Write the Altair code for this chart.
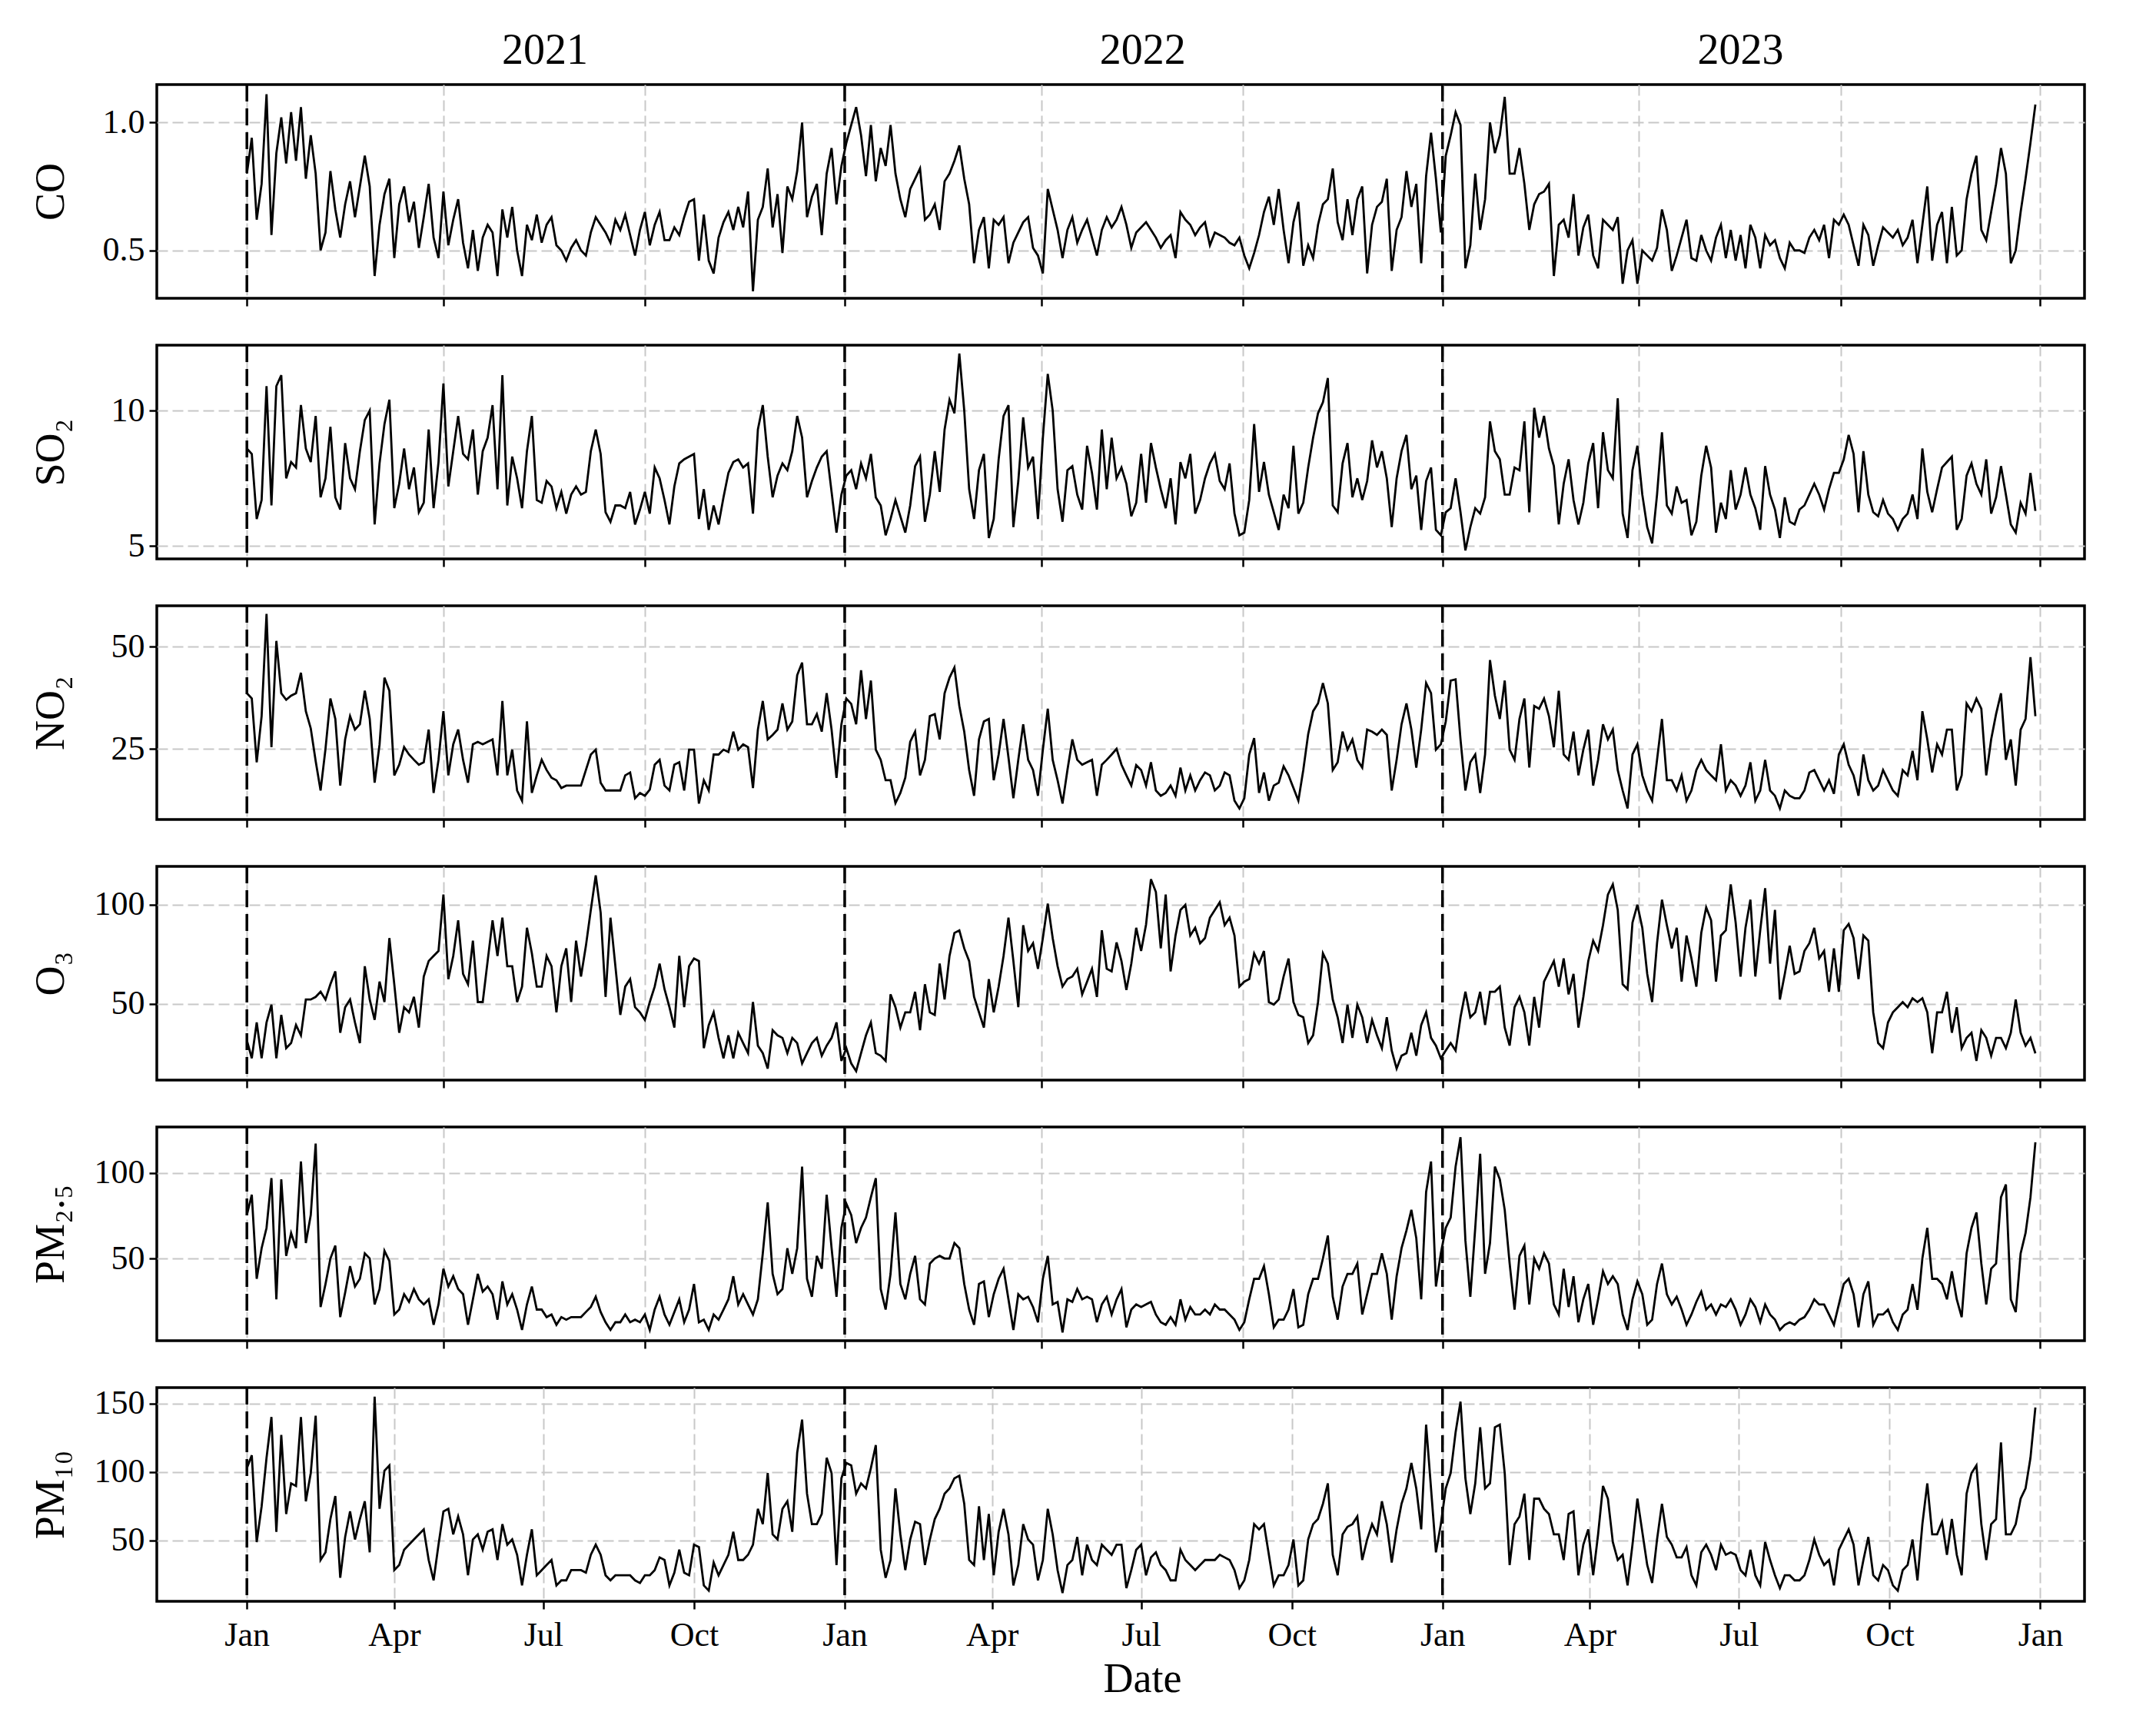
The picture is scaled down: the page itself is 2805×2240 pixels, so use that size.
import altair as alt
import pandas as pd

# ---------------- data: readings sampled every 3 days from 2021-01-01 ----------------
START = "2021-01-01"
STEP = "3D"

co_2021 = [0.80,0.94,0.62,0.76,1.11,0.56,0.88,1.02,0.84,1.04,
           0.85,1.06,0.78,0.95,0.80,0.50,0.57,0.81,0.66,0.55,
           0.68,0.77,0.63,0.75,0.87,0.75,0.40,0.60,0.72,0.78,
           0.47,0.68,0.75,0.61,0.69,0.51,0.63,0.76,0.55,0.47,
           0.73,0.52,0.62,0.70,0.53,0.43,0.58,0.42,0.55,0.60,
           0.57,0.40,0.66,0.55,0.67,0.50,0.40,0.60,0.54,0.64,
           0.53,0.60,0.63,0.52,0.50,0.46,0.51,0.54,0.50,0.48,
           0.57,0.63,0.60,0.57,0.53,0.62,0.58,0.64,0.56,0.48,
           0.58,0.65,0.52,0.60,0.65,0.54,0.54,0.59,0.56,0.63,
           0.69,0.70,0.46,0.64,0.46,0.41,0.55,0.61,0.65,0.58,
           0.67,0.59,0.73,0.34,0.62,0.67,0.82,0.59,0.72,0.49,
           0.75,0.70,0.81,1.00,0.63,0.71,0.76,0.56,0.80,0.90,
           0.68,0.83]
co_2022 = [0.92,0.99,1.06,0.95,0.79,0.99,0.77,0.90,0.83,0.99,
           0.80,0.70,0.63,0.74,0.78,0.82,0.62,0.64,0.68,0.58,
           0.77,0.80,0.85,0.91,0.78,0.68,0.45,0.58,0.63,0.43,
           0.62,0.60,0.63,0.45,0.53,0.57,0.61,0.63,0.51,0.48,
           0.41,0.74,0.66,0.58,0.47,0.58,0.63,0.53,0.58,0.62,
           0.55,0.48,0.58,0.63,0.59,0.62,0.67,0.60,0.51,0.57,
           0.59,0.61,0.58,0.55,0.51,0.54,0.56,0.47,0.65,0.62,
           0.60,0.56,0.59,0.61,0.52,0.57,0.56,0.55,0.53,0.52,
           0.55,0.48,0.43,0.49,0.56,0.65,0.71,0.60,0.74,0.58,
           0.45,0.61,0.69,0.44,0.52,0.47,0.60,0.68,0.70,0.82,
           0.61,0.54,0.70,0.56,0.70,0.75,0.41,0.60,0.67,0.69,
           0.78,0.42,0.58,0.63,0.81,0.67,0.76,0.45,0.79,0.96,
           0.78,0.57]
co_2023 = [0.87,0.95,1.04,0.99,0.43,0.52,0.80,0.58,0.70,1.00,
           0.88,0.95,1.10,0.80,0.80,0.90,0.76,0.58,0.68,0.72,
           0.73,0.76,0.40,0.60,0.62,0.55,0.72,0.48,0.59,0.64,
           0.48,0.43,0.62,0.60,0.58,0.63,0.37,0.50,0.54,0.37,
           0.50,0.48,0.46,0.51,0.66,0.58,0.42,0.48,0.55,0.62,
           0.47,0.46,0.56,0.50,0.46,0.55,0.60,0.47,0.58,0.46,
           0.56,0.43,0.60,0.55,0.43,0.56,0.52,0.54,0.47,0.43,
           0.53,0.50,0.50,0.49,0.55,0.58,0.54,0.60,0.47,0.62,
           0.60,0.64,0.60,0.52,0.44,0.60,0.56,0.44,0.52,0.59,
           0.57,0.55,0.58,0.52,0.55,0.62,0.45,0.60,0.75,0.46,
           0.60,0.65,0.45,0.67,0.48,0.50,0.70,0.80,0.87,0.58,
           0.54,0.65,0.76,0.90,0.80,0.45,0.50,0.65,0.78,0.92,
           1.07]

so2_2021 = [8.6,8.4,6.0,6.7,10.9,6.5,10.9,11.3,7.5,8.1,
            7.9,10.2,8.6,8.1,9.8,6.8,7.5,9.4,6.8,6.35,
            8.8,7.5,7.1,8.5,9.65,10.0,5.8,8.05,9.5,10.4,
            6.4,7.3,8.6,7.1,7.9,6.25,6.6,9.3,6.4,8.1,
            11.0,7.2,8.5,9.8,8.4,8.2,9.3,6.9,8.5,9.0,
            10.2,7.1,11.3,6.5,8.3,7.5,6.4,8.5,9.8,6.7,
            6.6,7.4,7.2,6.4,7.0,6.2,6.9,7.2,6.9,7.0,
            8.5,9.3,8.4,6.25,5.9,6.5,6.5,6.4,7.0,5.8,
            6.35,7.0,6.2,7.9,7.5,6.7,5.8,7.2,8.05,8.2,
            8.3,8.4,6.0,7.1,5.6,6.5,5.8,6.8,7.7,8.1,
            8.2,7.9,8.05,6.2,9.3,10.2,8.3,6.8,7.6,8.05,
            7.8,8.5,9.8,9.0,6.8,7.4,7.9,8.3,8.5,7.0,
            5.5,6.9]
so2_2022 = [7.6,7.8,7.1,8.05,7.5,8.4,6.8,6.5,5.4,6.0,
            6.7,6.1,5.5,6.5,7.95,8.3,5.9,6.9,8.5,7.0,
            9.3,10.4,9.9,12.1,10.0,7.1,6.0,7.8,8.4,5.3,
            6.0,8.2,9.8,10.2,5.7,7.4,9.75,7.9,8.3,6.0,
            9.0,11.35,10.0,7.1,5.9,7.8,7.95,6.9,6.35,8.7,
            7.7,6.35,9.3,7.1,9.0,7.5,7.9,7.3,6.1,6.6,
            8.4,6.6,8.8,7.9,7.1,6.4,7.5,5.8,8.1,7.5,
            8.4,6.2,6.7,7.5,8.05,8.4,7.4,7.1,8.05,6.2,
            5.4,5.5,6.7,9.5,7.0,8.1,6.9,6.25,5.6,6.9,
            6.4,8.7,6.2,6.6,7.9,9.0,9.9,10.3,11.2,6.5,
            6.25,8.05,8.8,6.8,7.5,6.7,7.4,8.9,7.9,8.5,
            7.5,5.7,7.5,8.5,9.1,7.1,7.6,5.6,7.4,7.9,
            5.6,5.4]
so2_2023 = [6.25,6.4,7.5,6.25,4.84,5.7,6.4,6.2,6.8,9.6,
            8.5,8.2,6.9,6.9,7.9,7.8,9.6,6.25,10.1,9.0,
            9.8,8.6,7.95,5.8,7.3,8.2,6.7,5.8,6.6,8.05,
            8.8,6.4,9.2,7.8,7.5,10.45,6.2,5.3,7.8,8.7,
            6.9,5.7,5.1,6.9,9.2,6.5,6.2,7.2,6.6,6.7,
            5.4,5.9,7.6,8.7,7.9,5.5,6.6,6.0,7.8,6.35,
            6.9,7.9,6.9,6.4,5.6,7.95,6.9,6.35,5.3,6.8,
            5.9,5.8,6.35,6.5,6.9,7.3,6.9,6.35,7.1,7.7,
            7.7,8.2,9.1,8.4,6.25,8.5,6.9,6.25,6.1,6.7,
            6.2,6.0,5.6,6.0,6.2,6.9,6.0,8.6,7.0,6.25,
            7.1,7.9,8.1,8.3,5.6,6.0,7.6,8.05,7.3,6.9,
            8.2,6.2,6.8,7.95,6.9,5.8,5.5,6.6,6.2,7.7,
            6.3]

no2_2021 = [38.6,37.3,21.7,33.0,58.0,25.4,51.4,38.6,37.0,38.0,
            38.6,43.6,34.2,30.0,22.0,14.8,25.0,37.3,32.3,16.0,
            27.3,33.0,29.7,31.0,39.2,32.3,16.7,26.0,42.4,39.2,
            18.5,21.1,25.4,23.6,22.3,21.1,21.7,29.7,14.2,22.3,
            34.2,18.5,26.1,29.7,22.3,16.7,26.1,26.7,26.1,26.7,
            27.3,18.5,36.7,18.5,24.8,14.8,12.3,31.7,14.2,18.5,
            22.3,19.8,17.9,17.3,15.4,16.0,16.0,16.0,16.0,19.8,
            23.6,24.8,16.7,14.8,14.8,14.8,14.8,18.5,19.2,12.9,
            14.2,13.5,15.0,21.1,22.3,16.0,14.8,21.1,21.7,14.8,
            24.8,24.8,11.6,17.3,14.8,23.6,23.6,24.8,24.2,29.2,
            24.8,26.1,25.4,15.4,29.7,36.7,27.3,28.4,29.7,36.1,
            29.7,31.7,43.0,46.1,31.0,31.0,33.5,29.2,38.6,29.7,
            17.9,31.0]
no2_2022 = [37.3,36.0,31.0,44.2,32.3,41.7,24.8,22.3,17.3,17.3,
            11.7,14.2,17.9,26.7,29.2,18.5,22.3,33.0,33.5,27.3,
            38.6,42.4,44.9,35.5,29.2,19.8,13.5,27.3,31.7,32.3,
            17.3,23.6,32.3,22.9,12.9,22.3,31.0,22.3,19.8,13.5,
            24.8,34.8,22.3,17.3,11.6,19.8,27.3,22.3,21.1,21.7,
            22.3,13.5,21.1,22.3,23.6,25.0,21.1,18.5,16.0,21.0,
            19.8,16.0,21.7,14.8,13.5,14.2,16.0,13.5,20.4,14.8,
            18.5,14.8,17.3,19.2,18.5,14.8,16.0,19.2,18.5,12.3,
            10.4,12.9,23.6,27.6,14.2,19.2,12.3,16.0,16.7,20.7,
            18.5,15.4,12.3,19.8,28.6,34.2,36.1,41.1,36.1,19.8,
            21.7,29.2,24.8,27.3,22.3,20.4,29.7,29.2,28.4,29.7,
            28.4,14.8,22.3,31.0,36.1,29.7,20.4,29.7,41.1,38.6,
            24.8,26.1]
no2_2023 = [31.7,41.7,42.0,27.3,14.8,21.7,23.6,14.2,23.6,46.7,
            38.0,32.3,41.7,24.8,22.3,32.3,37.3,20.4,35.5,34.8,
            37.3,33.0,25.4,39.2,23.6,22.3,29.2,18.5,24.8,29.7,
            16.0,22.3,31.0,27.3,29.7,19.8,14.8,10.4,23.6,26.1,
            18.5,14.8,12.3,22.3,32.3,17.3,17.3,14.8,18.5,12.3,
            14.8,19.8,22.3,19.8,18.5,17.3,26.1,14.8,17.3,16.0,
            13.5,16.0,21.7,12.3,14.8,22.3,14.8,13.5,10.4,14.8,
            13.5,12.9,12.9,14.8,19.2,19.8,17.3,14.8,17.3,14.0,
            23.6,26.1,21.1,18.5,13.5,23.6,17.3,14.8,16.0,19.8,
            17.3,14.8,13.5,19.8,18.5,24.5,17.3,34.2,27.3,19.2,
            26.1,23.6,29.7,29.7,14.8,18.5,36.1,34.2,37.3,34.8,
            18.5,27.3,33.5,38.6,22.3,27.3,16.0,29.7,32.3,47.4,
            33.0]

o3_2021 = [31.5,22.5,40.6,22.5,40.6,49.6,22.5,44.4,27.6,30.2,
           39.3,34.1,52.2,52.2,53.5,56.1,52.2,59.9,66.4,35.4,
           48.3,52.2,40.6,30.2,69.0,52.2,41.9,61.2,50.9,83.2,
           59.9,35.4,48.3,45.7,53.5,38.0,63.8,71.6,74.2,76.7,
           105.2,62.5,74.2,92.2,65.1,59.9,81.9,50.9,50.9,71.6,
           92.2,74.2,93.5,69.0,69.0,50.9,58.7,88.4,75.5,58.7,
           58.7,74.2,69.0,45.7,69.0,78.0,50.9,81.9,63.8,79.3,
           97.4,114.9,96.1,53.5,93.5,69.0,44.4,58.7,62.5,48.3,
           45.7,41.9,50.9,58.7,70.3,57.4,48.3,38.0,74.2,48.3,
           69.0,72.9,71.6,27.6,39.3,45.7,32.8,22.5,34.1,22.5,
           35.4,30.2,25.1,50.9,28.9,25.1,17.3,36.7,34.1,32.8,
           25.1,32.8,30.2,19.9,25.1,30.2,32.8,23.8,28.9,32.8,
           40.6,21.2]
o3_2022 = [27.6,19.9,16.0,25.1,34.1,40.6,25.1,23.8,21.2,54.8,
           48.3,38.0,45.7,45.7,56.1,36.7,59.9,45.7,44.4,70.3,
           52.2,74.2,85.8,87.1,78.0,71.6,53.5,45.7,38.0,62.5,
           45.7,58.7,74.2,93.5,71.6,48.3,89.7,76.7,80.6,67.7,
           83.2,100.6,83.2,69.0,58.7,62.5,63.8,67.7,54.8,61.2,
           67.7,53.5,87.1,67.7,66.4,81.0,71.6,57.0,70.3,88.4,
           76.7,90.0,112.9,106.5,78.0,105.2,66.4,84.5,97.4,100.0,
           84.5,88.4,80.6,83.2,93.5,97.4,101.3,89.7,93.5,84.5,
           58.7,61.2,62.5,75.5,70.3,76.7,50.9,49.6,52.2,63.8,
           72.9,50.9,44.4,43.2,30.2,34.1,50.9,75.5,70.3,52.2,
           43.2,30.2,49.6,32.8,49.6,43.2,30.2,41.9,34.1,27.6,
           43.2,26.4,17.3,23.8,25.1,35.4,23.8,39.3,45.7,32.8,
           28.9,22.5]
o3_2023 = [26.4,30.2,26.4,43.2,56.1,43.2,45.7,56.1,39.3,56.1,
           56.1,58.7,38.0,28.9,48.3,53.5,45.7,28.9,53.5,38.0,
           61.2,66.4,71.6,58.7,72.9,54.8,65.1,38.0,53.5,71.6,
           81.9,76.7,89.7,105.2,110.3,97.4,59.9,57.4,91.0,100.0,
           88.4,65.1,50.9,80.6,102.6,89.7,78.0,88.4,61.2,84.5,
           72.9,58.7,85.8,98.7,92.2,61.2,84.5,87.1,110.3,91.0,
           63.8,88.4,102.6,63.8,87.1,108.4,70.3,97.4,52.2,65.1,
           79.3,65.1,66.4,76.7,80.6,88.4,72.9,76.7,56.1,78.0,
           56.1,87.1,90.3,83.2,62.5,84.5,81.9,45.7,30.2,27.6,
           40.6,45.7,48.3,50.9,48.3,52.8,50.9,52.8,45.7,25.1,
           45.7,45.7,56.1,35.4,48.3,27.6,32.8,35.4,21.2,36.7,
           32.8,23.8,32.8,32.8,27.6,35.4,52.2,35.4,28.9,32.8,
           25.0]

pm25_2021 = [75.4,87.3,38.1,56.0,67.9,97.0,26.1,96.3,51.5,64.9,
             56.0,106.7,59.0,75.4,117.2,21.6,35.0,50.0,57.5,15.7,
             30.0,45.5,33.6,38.1,53.0,50.0,23.1,32.1,54.5,48.5,
             17.2,20.1,29.1,24.6,32.1,26.1,23.1,26.1,11.2,23.1,
             44.0,33.6,39.6,32.1,29.1,11.2,26.1,41.0,30.6,33.6,
             29.1,14.2,36.6,23.1,29.1,20.1,8.2,23.1,33.6,20.1,
             20.1,15.7,17.2,11.2,15.7,14.2,15.7,15.7,15.7,18.7,
             21.6,27.6,18.7,12.7,8.2,12.7,12.7,17.2,12.7,14.2,
             12.7,17.2,8.2,20.1,27.6,17.2,11.2,18.7,26.1,12.7,
             20.1,35.1,12.7,14.2,8.2,17.2,14.2,20.1,26.1,39.6,
             23.1,29.1,23.1,17.2,26.1,53.0,82.8,41.0,29.1,32.1,
             56.0,41.0,56.0,103.7,38.1,27.6,51.5,44.0,87.3,56.0,
             27.6,67.9]
pm25_2022 = [82.1,75.4,59.0,67.9,73.9,85.8,97.0,32.1,20.1,41.0,
             76.9,35.1,26.1,41.0,51.5,26.1,23.1,47.0,50.0,51.5,
             50.0,50.0,59.0,56.0,35.1,20.1,11.2,35.1,36.6,15.7,
             29.1,38.1,44.0,26.1,8.2,29.1,26.1,27.6,21.6,12.7,
             38.1,51.5,23.1,24.6,6.7,26.1,24.6,32.1,26.1,27.6,
             26.1,12.7,23.1,27.6,17.2,26.0,32.1,9.7,20.1,23.1,
             21.6,23.1,24.6,17.2,12.7,11.2,15.7,11.2,26.1,14.2,
             21.6,17.2,17.2,20.1,17.2,23.1,20.1,20.1,17.2,14.2,
             8.2,12.7,26.1,38.1,38.1,45.5,29.1,9.7,14.2,14.2,
             20.1,32.1,9.7,11.2,29.1,38.1,38.1,50.0,63.4,27.6,
             14.2,33.6,41.0,41.0,47.0,17.2,29.1,41.0,41.0,53.0,
             41.0,14.2,39.6,56.0,66.4,78.4,61.9,26.1,88.8,106.7,
             33.6,53.0]
pm25_2023 = [67.9,73.9,103.7,120.9,60.4,27.6,67.9,111.2,41.0,59.0,
             103.7,96.3,78.4,47.0,20.1,51.5,57.5,23.1,50.0,44.0,
             53.0,47.0,23.1,17.2,44.0,21.6,39.6,12.7,26.1,35.1,
             11.2,26.1,42.5,35.1,39.6,35.1,17.2,8.2,26.1,36.6,
             29.1,11.2,14.2,35.1,47.0,29.1,23.1,27.6,20.1,11.2,
             17.2,24.6,30.6,20.1,23.1,17.2,23.1,21.6,26.1,20.1,
             11.2,17.2,26.1,21.6,12.7,23.1,17.2,14.2,8.2,11.2,
             12.7,11.2,14.2,15.7,20.1,26.1,23.1,23.1,17.2,11.2,
             23.1,35.1,38.1,29.1,9.7,29.1,36.6,11.2,17.2,17.2,
             20.1,12.7,8.2,17.2,20.1,35.1,20.0,50.0,67.9,38.1,
             38.1,35.1,26.1,42.5,26.1,15.7,53.0,67.9,76.9,47.0,
             23.1,44.0,47.0,85.8,93.3,26.1,18.6,53.0,64.9,85.8,
             118.0]

pm10_2021 = [102.8,112.1,48.7,74.8,110.3,140.1,56.2,127.0,69.2,91.6,
             89.7,140.1,78.5,99.1,141.0,35.6,41.2,65.5,82.3,22.6,
             52.4,71.1,50.6,65.5,78.5,41.2,155.0,73.0,100.9,104.7,
             28.2,31.9,43.1,46.8,50.6,54.3,58.0,35.6,20.7,46.8,
             71.1,73.0,54.3,67.4,54.3,24.4,50.6,54.3,43.1,56.2,
             58.0,35.6,61.8,46.8,50.6,39.4,17.0,39.4,58.0,24.4,
             28.2,31.9,35.6,17.0,20.7,20.7,28.2,28.2,28.2,26.3,
             39.4,46.8,39.4,24.4,20.7,24.4,24.4,24.4,24.4,20.7,
             18.8,24.4,24.4,28.2,37.5,35.6,17.0,26.3,43.1,26.3,
             24.4,46.8,45.0,17.0,13.2,33.8,24.4,31.9,39.4,56.2,
             35.6,35.6,39.4,46.8,73.0,61.8,99.1,54.3,50.6,73.0,
             78.5,56.2,114.0,138.2,84.1,61.8,61.8,69.2,110.3,99.1,
             31.9,95.3]
pm10_2022 = [106.5,104.7,84.1,91.6,87.9,102.8,119.6,43.1,22.6,35.6,
             87.9,54.3,28.2,50.6,63.6,61.8,31.9,50.6,65.5,73.0,
             84.1,87.9,95.3,97.2,76.7,35.6,31.9,74.8,35.6,69.2,
             24.4,56.2,73.0,54.3,17.0,31.9,61.8,50.6,46.8,20.7,
             35.6,73.0,54.3,28.2,11.4,31.9,35.6,52.4,24.4,46.8,
             35.6,31.9,46.8,43.1,39.4,46.8,46.8,15.0,28.2,43.1,
             46.8,24.4,37.5,41.2,31.9,28.2,20.7,20.7,43.1,35.6,
             31.9,28.2,31.9,35.6,35.6,35.6,39.4,37.5,35.6,28.2,
             15.0,20.7,35.6,61.8,58.0,61.8,39.4,17.0,24.4,24.4,
             31.9,50.6,17.0,20.7,50.6,61.8,65.5,76.7,91.6,39.4,
             24.4,54.3,59.9,61.8,67.4,35.6,50.6,61.8,54.3,78.5,
             61.8,33.8,58.0,76.7,87.9,106.5,87.9,58.0,134.5,87.9,
             41.2,61.8]
pm10_2023 = [87.9,99.1,128.9,151.3,95.3,69.2,91.6,132.6,87.9,91.6,
             132.6,134.5,99.1,31.9,61.8,67.4,84.1,35.6,80.4,80.4,
             73.0,69.2,54.3,54.3,35.6,69.2,71.1,24.4,46.8,58.0,
             24.4,54.3,89.7,80.4,48.7,35.6,39.4,17.0,46.8,80.4,
             56.2,31.9,18.8,50.6,76.7,52.4,46.8,37.5,37.5,45.0,
             24.4,17.0,41.2,46.8,39.4,28.2,46.8,39.4,41.2,39.4,
             28.2,24.4,43.1,24.4,17.0,48.7,35.6,24.4,15.0,24.4,
             24.4,20.7,20.7,24.4,35.6,50.6,39.4,31.9,35.6,17.0,
             43.1,50.6,58.0,46.8,17.0,35.6,52.4,24.4,20.7,31.9,
             28.2,17.0,13.2,28.2,31.9,50.6,20.7,61.8,91.6,54.3,
             54.3,63.6,39.4,65.5,39.4,24.4,84.1,99.1,104.7,61.8,
             35.6,61.8,65.5,121.5,54.3,54.3,61.8,80.4,87.9,110.3,
             147.0]

series_names = ["CO", "SO\u2082", "NO\u2082", "O\u2083", "PM\u2082.\u2085", "PM\u2081\u2080"]
series_values = [co_2021 + co_2022 + co_2023,
                 so2_2021 + so2_2022 + so2_2023,
                 no2_2021 + no2_2022 + no2_2023,
                 o3_2021 + o3_2022 + o3_2023,
                 pm25_2021 + pm25_2022 + pm25_2023,
                 pm10_2021 + pm10_2022 + pm10_2023]
y_domains = [[0.313, 1.148], [4.53, 12.41], [7.7, 60.0], [11.5, 119.4], [1.9, 126.9], [5.4, 161.6]]
y_ticks = [[0.5, 1.0], [5, 10], [25, 50], [50, 100], [50, 100], [50, 100, 150]]
y_formats = [".1f", "d", "d", "d", "d", "d"]

year_labels = ["2021", "2022", "2023"]
year_mid_dates = ["2021-07-02", "2022-07-02", "2023-07-02"]
new_year_dates = ["2021-01-01", "2022-01-01", "2023-01-01"]

# ---------------- styling ----------------
FONT = "Liberation Serif"
W, H = 2508, 278


def dt(y, m, d):
    return alt.DateTime(year=y, month=m, date=d, utc=True)


x_scale = alt.Scale(type="utc", domain=[dt(2020, 11, 7), dt(2024, 1, 28)])
top_ticks = [dt(y, m, 1) for y in (2021, 2022, 2023) for m in (1, 5, 9)] + [dt(2024, 1, 1)]
bottom_ticks = [dt(y, m, 1) for y in (2021, 2022, 2023) for m in (1, 4, 7, 10)] + [dt(2024, 1, 1)]


def x_enc(bottom):
    if bottom:
        axis = alt.Axis(values=bottom_ticks, labelExpr="utcFormat(datum.value, '%b')", labels=True,
                        title="Date", labelPadding=12, titlePadding=8,
                        titleX=W / 2 + 28, titleAlign="center")
    else:
        axis = alt.Axis(values=top_ticks, labels=False, title="")
    return alt.X("date:T", scale=x_scale, axis=axis)


def frame(vals):
    dates = pd.date_range(START, periods=len(vals), freq=STEP)
    return pd.DataFrame({"date": dates.strftime("%Y-%m-%d"), "value": vals})


jan_df = pd.DataFrame({"date": new_year_dates})
years_df = pd.DataFrame({"date": year_mid_dates, "label": year_labels})

panels = []
for i, name in enumerate(series_names):
    bottom = i == len(series_names) - 1
    line = alt.Chart(frame(series_values[i])).mark_line(color="black", strokeWidth=2.8).encode(
        x=x_enc(bottom),
        y=alt.Y("value:Q",
                scale=alt.Scale(domain=y_domains[i], nice=False, zero=False),
                axis=alt.Axis(values=y_ticks[i], format=y_formats[i], title=name,
                              titleX=-138, titleY=H / 2, titleAngle=270,
                              titleAlign="center", titleBaseline="middle",
                              labelPadding=6)),
    )
    rule = alt.Chart(jan_df).mark_rule(color="black", strokeWidth=3.5, strokeDash=[22, 9]).encode(
        x=x_enc(bottom)
    )
    layers = [line, rule]
    if i == 0:
        txt = alt.Chart(years_df).mark_text(font=FONT, fontSize=56, align="center",
                                            baseline="middle", color="black").encode(
            x=x_enc(bottom), y=alt.value(-44), text="label:N"
        )
        layers.append(txt)
    panels.append(alt.layer(*layers).properties(width=W, height=H))

chart = alt.vconcat(*panels, spacing=61, bounds="flush").properties(
    padding={"left": 29, "top": 28, "right": 20, "bottom": 10},
    background="white",
).configure_view(
    stroke="black", strokeWidth=3.5
).configure_axis(
    grid=True, gridColor="#c8c8c8", gridDash=[14, 6], gridWidth=2,
    domain=False, ticks=True, tickColor="black", tickWidth=2.5, tickSize=10,
    labelFont=FONT, labelFontSize=44, labelColor="black",
    titleFont=FONT, titleFontSize=54, titleColor="black", titleFontWeight="normal",
)

chart.save("out.html", embed_options={"renderer": "svg", "actions": False})
